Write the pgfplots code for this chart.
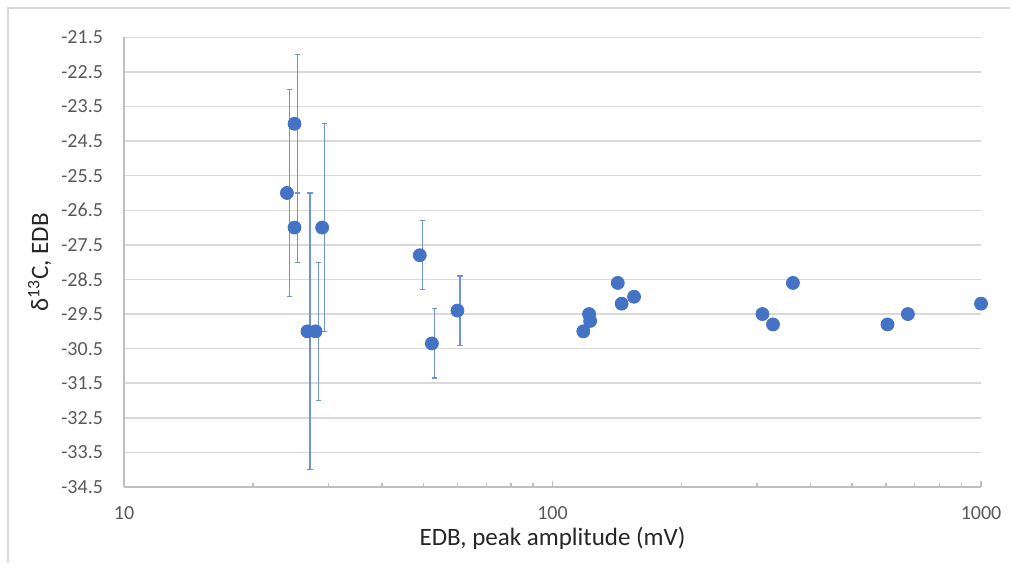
\documentclass[border=0pt]{standalone}
\usepackage{pgfplots}
\pgfplotsset{compat=1.18}
\usepackage{pgfplotstable}
\usepackage{fontspec}
\setmainfont{Carlito}

\definecolor{dotblue}{HTML}{4472C4}
\definecolor{barblue}{HTML}{6F93D6}
\definecolor{gridgray}{HTML}{D9D9D9}
\definecolor{axisgray}{HTML}{BFBFBF}
\definecolor{ticktext}{HTML}{595959}
\definecolor{labeltext}{HTML}{262626}

% points with error bars
\pgfplotstableread{
x     y      err
24    -26    3
25    -24    2
25    -27    1
26.8  -30    4
28    -30    2
29    -27    3
49    -27.8  1
52.3  -30.35 1
60    -29.4  1
}\witherr

% points without error bars
\pgfplotstableread{
x      y
118    -30
121.7  -29.5
122.4  -29.7
142    -28.6
145    -29.2
155    -29.0
309    -29.5
327    -29.8
364    -28.6
605    -29.8
675    -29.5
1000   -29.2
}\noerr

\begin{document}
\begin{tikzpicture}
\useasboundingbox (0,0) rectangle (505pt,281.5pt);
% chart area frame (only top and left edges are inside the picture)
\draw[gridgray, line width=0.75pt] (4pt,0) -- (4pt,277.5pt) -- (505pt,277.5pt);
\begin{axis}[
  at={(62pt,38pt)}, anchor=south west,
  scale only axis, width=428.5pt, height=224.85pt,
  xmode=log, xmin=10, xmax=1000,
  ymin=-34.5, ymax=-21.5,
  clip=false,
  axis x line*=bottom, axis y line*=left,
  axis line style={axisgray, line width=0.75pt},
  tick align=inside,
  xtick={10,100,1000}, xticklabels={10,100,1000},
  minor xtick={20,30,40,50,60,70,80,90,200,300,400,500,600,700,800,900},
  major tick length=3pt, minor tick length=2pt,
  xtick style={axisgray, line width=0.6pt},
  ytick={-34.5,-33.5,-32.5,-31.5,-30.5,-29.5,-28.5,-27.5,-26.5,-25.5,-24.5,-23.5,-22.5,-21.5},
  ytick style={draw=none},
  ymajorgrids,
  major grid style={gridgray, line width=0.75pt},
  tick label style={font=\fontsize{10}{12}\selectfont, text=ticktext},
  yticklabel style={xshift=-7pt},
  xticklabel style={yshift=-6pt},
  /pgf/number format/.cd, fixed, fixed zerofill, precision=1, assume math mode=true,
  /pgfplots/.cd,
  every axis y label/.style={at={([xshift=-38pt]axis description cs:0,0.5)}, rotate=90, anchor=base},
  every axis x label/.style={at={([yshift=-29pt]axis description cs:0.5,0)}, anchor=base},
  label style={font=\fontsize{12.5}{15}\selectfont, text=labeltext},
  xlabel={EDB, peak amplitude (mV)},
  ylabel={δ\textsuperscript{13}C, EDB},
]
\addplot[only marks, mark=*, mark size=3.25pt,
  mark options={draw=dotblue, fill=dotblue},
  error bars/.cd, y dir=both, y explicit,
  error bar style={barblue, line width=0.6pt, xshift=1.3pt},
  error mark options={rotate=90, barblue, mark size=1.3pt, line width=0.6pt}]
  table[x=x, y=y, y error=err] {\witherr};
\addplot[only marks, mark=*, mark size=3.25pt,
  mark options={draw=dotblue, fill=dotblue}]
  table[x=x, y=y] {\noerr};
\end{axis}
\end{tikzpicture}
\end{document}
